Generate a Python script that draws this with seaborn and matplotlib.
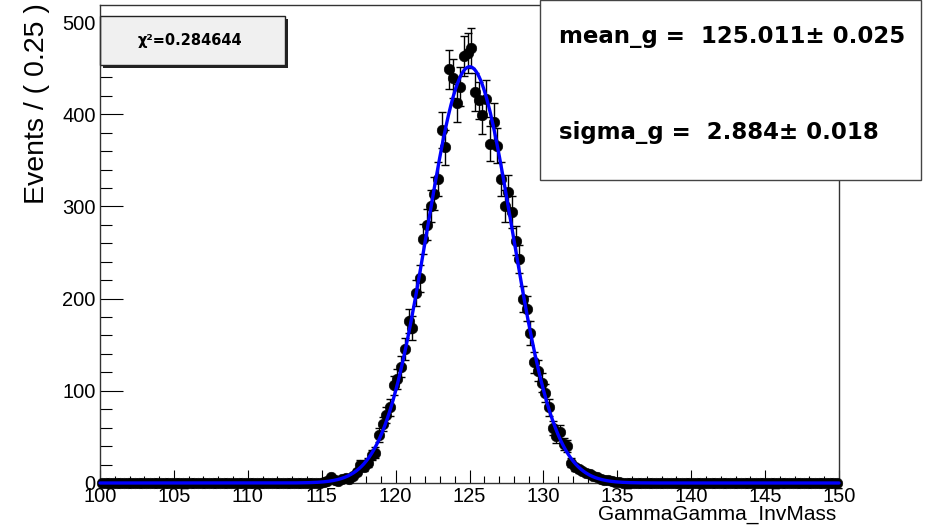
import numpy as np
import pandas as pd
import matplotlib
matplotlib.use("Agg")
import matplotlib.pyplot as plt
import seaborn as sns
from matplotlib.ticker import MultipleLocator
from matplotlib.patches import Rectangle

# ---------------- data ----------------
bin_width = 0.25
x_low, x_high = 100.0, 150.0
first_filled_center = 115.125
filled_counts = [
    1, 2, 6, 3, 2, 4, 5, 4,
    8, 12, 20, 17, 22, 30, 33, 52,
    64, 74, 82, 106, 113, 126, 145, 176,
    168, 206, 222, 265, 280, 301, 314, 330,
    383, 364, 449, 439, 412, 430, 463, 466,
    472, 424, 415, 399, 417, 368, 392, 366,
    330, 301, 316, 294, 263, 243, 200, 189,
    163, 131, 122, 109, 98, 82, 60, 51,
    55, 42, 40, 22, 17, 15, 13, 11,
    10, 8, 6, 4, 3, 3, 2, 1, 1,
]
mean_g, mean_err = 125.011, 0.025
sigma_g, sigma_err = 2.884, 0.018
chi2 = 0.284644
x_ticks = [100, 105, 110, 115, 120, 125, 130, 135, 140, 145, 150]
y_ticks = [0, 100, 200, 300, 400, 500]

centers = np.arange(x_low + bin_width / 2, x_high, bin_width)
counts = np.zeros(len(centers))
i0 = int(round((first_filled_center - centers[0]) / bin_width))
counts[i0:i0 + len(filled_counts)] = filled_counts
errors = np.sqrt(counts)
df = pd.DataFrame({"mass": centers, "events": counts, "err": errors})

# fitted gaussian, normalised to the data
norm = counts.sum() * bin_width / (np.sqrt(2 * np.pi) * sigma_g)
xs = np.linspace(x_low, x_high, 2001)
fit = pd.DataFrame({"mass": xs,
                    "events": norm * np.exp(-0.5 * ((xs - mean_g) / sigma_g) ** 2)})

# ---------------- figure ----------------
sns.set_style("white")
plt.rcParams["font.family"] = ["Liberation Sans", "DejaVu Sans"]
plt.rcParams["text.color"] = "black"
plt.rcParams["xtick.color"] = "black"
plt.rcParams["ytick.color"] = "black"
plt.rcParams["axes.labelcolor"] = "black"

W, H = 930, 528
fig = plt.figure(figsize=(W / 100, H / 100), dpi=100)
ax = fig.add_axes([100 / W, 1 - 483 / H, 739 / W, 478 / H])

ax.errorbar(df["mass"], df["events"], yerr=df["err"], fmt="none",
            ecolor="black", elinewidth=1.0, capsize=2.6, capthick=1.0, zorder=3)
sns.scatterplot(data=df, x="mass", y="events", ax=ax, color="black",
                s=58, edgecolor="black", linewidth=0.4, zorder=4, legend=False)
for coll in ax.collections:
    coll.set_clip_on(False)
sns.lineplot(data=fit, x="mass", y="events", ax=ax, color="#0000ff",
             linewidth=2.4, zorder=5, legend=False)
ax.lines[-1].set_clip_on(False)

ax.set_xlim(x_low, x_high)
ax.set_ylim(0, 518.5)
ax.set_xticks(x_ticks)
ax.set_yticks(y_ticks)
ax.xaxis.set_minor_locator(MultipleLocator(1))
ax.yaxis.set_minor_locator(MultipleLocator(20))
ax.tick_params(axis="both", which="both", direction="in", color="black",
               labelcolor="black", width=0.8, labelsize=14.5,
               bottom=True, left=True, top=False, right=False)
ax.tick_params(axis="x", which="major", length=9.6, pad=3)
ax.tick_params(axis="x", which="minor", length=5.3)
ax.tick_params(axis="y", which="major", length=16.8, pad=3)
ax.tick_params(axis="y", which="minor", length=8.4)
for s in ax.spines.values():
    s.set_color("#333333")
    s.set_linewidth(1.0)

ax.set_xlabel("")
ax.set_ylabel("")
fig.text(836 / W, 1 - 514 / H, "GammaGamma_InvMass", ha="right", va="center",
         fontsize=15, color="black")
fig.text(37 / W, 1 - 3 / H, "Events / ( 0.25 )", rotation=90, ha="center",
         va="top", fontsize=20.5, color="black")

# chi2 box (behind the ticks)
shadow = Rectangle((103 / W, 1 - 68 / H), 185 / W, 49 / H, transform=fig.transFigure,
                   facecolor="#222222", edgecolor="none", zorder=1, clip_on=False)
box1 = Rectangle((100 / W, 1 - 65 / H), 185 / W, 49 / H, transform=fig.transFigure,
                 facecolor="#f0f0f0", edgecolor="#222222", linewidth=1.0,
                 zorder=1.1, clip_on=False)
ax.add_patch(shadow)
ax.add_patch(box1)
fig.text(190 / W, 1 - 41 / H, "\u03c7\u00b2=" + f"{chi2:.6f}", ha="center", va="center",
         fontsize=10.5, fontweight="bold", family="DejaVu Sans", color="black", zorder=6)

# parameter box (over the frame)
box2 = Rectangle((540 / W, 1 - 180 / H), 381 / W, 180 / H, transform=fig.transFigure,
                 facecolor="white", edgecolor="#444444", linewidth=1.0, zorder=5)
fig.patches.append(box2)
fig.text(559 / W, 1 - 37 / H, f"mean_g =  {mean_g:.3f}\u00b1 {mean_err:.3f}",
         ha="left", va="center", fontsize=16.5, fontweight="bold",
         family="DejaVu Sans", color="black", zorder=6)
fig.text(559 / W, 1 - 133 / H, f"sigma_g =  {sigma_g:.3f}\u00b1 {sigma_err:.3f}",
         ha="left", va="center", fontsize=16.5, fontweight="bold",
         family="DejaVu Sans", color="black", zorder=6)

fig.savefig("out.png", dpi=100)
